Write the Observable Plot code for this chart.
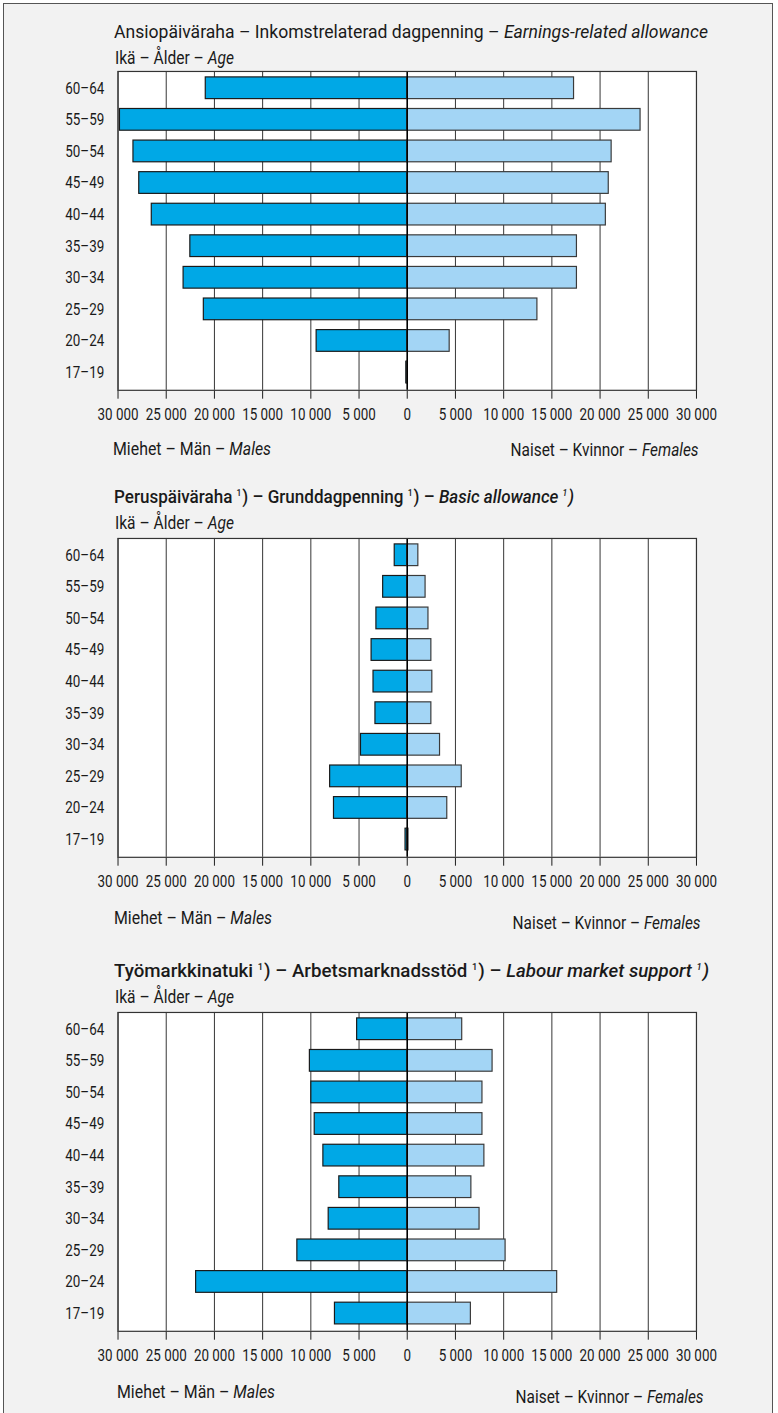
<!DOCTYPE html>
<html>
<head>
<meta charset="utf-8">
<script src="https://cdn.jsdelivr.net/npm/d3@7"></script>
<script src="https://cdn.jsdelivr.net/npm/@observablehq/plot@0.6"></script>
<style>
  html, body { margin: 0; padding: 0; background: #ffffff; }
  #page {
    position: absolute; left: 3px; top: 3px; width: 770px; height: 1420px;
    background: #f2f2f2; border-left: 1.5px solid #555; border-top: 1.5px solid #555; border-right: 1.5px solid #555;
    box-sizing: border-box; overflow: hidden;
  }
  .t { position: absolute; white-space: nowrap; color: #1a1a1a; font-family: Roboto, "Liberation Sans", sans-serif; }
  .t sup { font-size: 50%; vertical-align: 0.8em; line-height: 0; margin: 0 1px 0 0; }
  svg { position: absolute; left: 0; }
</style>
</head>
<body>
<div id="page"></div>
<script>
// ---------- data ----------
const ages = ["60–64", "55–59", "50–54", "45–49", "40–44", "35–39", "30–34", "25–29", "20–24", "17–19"];

const earningsMales   = [20900, 29800, 28400, 27800, 26500, 22500, 23200, 21100, 9400, 100];
const earningsFemales = [17300, 24200, 21200, 20900, 20600, 17600, 17600, 13500, 4400, 50];

const basicMales   = [1300, 2500, 3200, 3700, 3500, 3300, 4800, 8000, 7600, 180];
const basicFemales = [1150, 1900, 2200, 2500, 2600, 2500, 3400, 5650, 4150, 130];

const labourMales   = [5200, 10100, 9950, 9600, 8700, 7050, 8150, 11400, 21900, 7500];
const labourFemales = [5700, 8850, 7800, 7800, 8000, 6650, 7500, 10200, 15550, 6600];

const tickValues = [-30000, -25000, -20000, -15000, -10000, -5000, 0, 5000, 10000, 15000, 20000, 25000, 30000];

const titles = [
  'Ansiopäiväraha – Inkomstrelaterad dagpenning – <i>Earnings-related allowance</i>',
  'Peruspäiväraha <sup>1</sup>) – Grunddagpenning <sup>1</sup>) – <i>Basic allowance <sup>1</sup>)</i>',
  'Työmarkkinatuki <sup>1</sup>) – Arbetsmarknadsstöd <sup>1</sup>) – <i>Labour market support <sup>1</sup>)</i>'
];
const ageLabel = 'Ikä – Ålder – <i>Age</i>';
const malesLabel = 'Miehet – Män – <i>Males</i>';
const femalesLabel = 'Naiset – Kvinnor – <i>Females</i>';

// ---------- layout ----------
const FONT = 'Roboto, "Liberation Sans", sans-serif';
const MALE = "#00a8e6", FEMALE = "#a3d5f5";
const OX = 3, OY = 3; // page offset
const SQUEEZE = 0.8; // condensed look for axis labels
const page = document.getElementById("page");
const fmt = d3.formatLocale({decimal: ",", thousands: " ", grouping: [3]}).format(",");

const panels = [
  {title: titles[0], m: earningsMales, f: earningsFemales, frameTop: 69.5, weight: 400, titleW: 594, titleDy: 39, ageDy: 13, malesX: 112, malesDy: 55, femalesX: 700, femalesDy: 56},
  {title: titles[1], m: basicMales, f: basicFemales, frameTop: 537, weight: 500, titleW: 460, titleDy: 41, ageDy: 15, malesX: 113, malesDy: 57, femalesX: 702, femalesDy: 62},
  {title: titles[2], m: labourMales, f: labourFemales, frameTop: 1011, weight: 500, titleW: 595, titleDy: 41, ageDy: 15, malesX: 116, malesDy: 57, femalesX: 705, femalesDy: 62}
];
const FRAME_H = 323;

function place(html, x, yc, size, align, weight, targetW) {
  const d = document.createElement("div");
  d.className = "t";
  d.innerHTML = html;
  d.style.fontSize = size + "px";
  d.style.lineHeight = "22px";
  d.style.top = (yc - 11 - OY) + "px";
  d.style.fontWeight = weight || 400;
  if (align === "right") { d.style.right = (770 - (x - OX)) + "px"; d.style.transformOrigin = "right center"; }
  else { d.style.left = (x - OX) + "px"; d.style.transformOrigin = "left center"; }
  page.appendChild(d);
  if (targetW) {
    const w = d.getBoundingClientRect().width;
    d.style.transform = `scaleX(${targetW / w})`;
  }
}

for (const p of panels) {
  const data = ages.map((a, i) => ({age: a, m: p.m[i], f: p.f[i]}));
  const mt = 2, mb = 40;
  const chart = Plot.plot({
    width: 778,
    height: mt + FRAME_H + mb,
    marginLeft: 115, marginRight: 77, marginTop: mt, marginBottom: mb,
    style: {background: "transparent", fontFamily: FONT, fontSize: "17px", color: "#1a1a1a", overflow: "visible"},
    x: {domain: [-30000, 30000], ticks: tickValues, tickFormat: d => fmt(Math.abs(d)), tickSize: 9, tickPadding: 9, label: null},
    y: {domain: ages, paddingInner: 0.3, paddingOuter: 0.15, tickSize: 0, tickPadding: 14, label: null},
    marks: [
      Plot.frame({fill: "white", stroke: "none"}),
      Plot.gridX(tickValues, {stroke: "#333", strokeOpacity: 1, strokeWidth: 1}),
      Plot.barX(data, {x1: 0, x2: d => -d.m, y: "age", fill: MALE, stroke: "#1a1a1a", strokeWidth: 1.2}),
      Plot.barX(data, {x1: 0, x2: "f", y: "age", fill: FEMALE, stroke: "#3a3a3a", strokeWidth: 1.2}),
      Plot.ruleX([0], {stroke: "#000", strokeWidth: 1.5}),
      Plot.frame({stroke: "#333", strokeWidth: 1.2})
    ]
  });
  chart.style.top = (p.frameTop - mt - OY) + "px";
  page.appendChild(chart);
  // condense axis text like the reference's narrow typeface
  chart.querySelectorAll("text").forEach(t => {
    const w = t.getComputedTextLength();
    if (w > 0) {
      t.setAttribute("textLength", (w * SQUEEZE).toFixed(2));
      t.setAttribute("lengthAdjust", "spacingAndGlyphs");
    }
  });

  place(p.title, 113, p.frameTop - p.titleDy, 18, "left", p.weight, p.titleW);
  place(ageLabel, 114, p.frameTop - p.ageDy, 18, "left", 400, 119);
  const axisY = p.frameTop + FRAME_H;
  place(malesLabel, p.malesX, axisY + p.malesDy, 18, "left", 400, 158);
  place(femalesLabel, p.femalesX, axisY + p.femalesDy, 18, "right", 400, 188);
}
</script>
</body>
</html>
